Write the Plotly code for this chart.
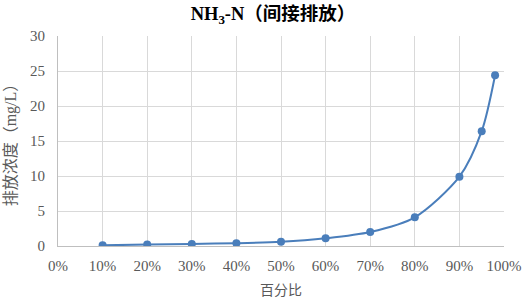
import plotly.graph_objects as go

x_pct = [10, 20, 30, 40, 50, 60, 70, 80, 90, 95, 98]
y_conc = [0.1, 0.2, 0.3, 0.4, 0.6, 1.1, 2.0, 4.1, 9.9, 16.4, 24.4]
x_ticks = [0, 10, 20, 30, 40, 50, 60, 70, 80, 90, 100]
x_ticklabels = [f"{v}%" for v in x_ticks]
y_ticks = [0, 5, 10, 15, 20, 25, 30]

font_fam = '"Liberation Serif", "Noto Sans CJK SC", serif'
txt_col = "#595959"

fig = go.Figure()
fig.add_trace(go.Scatter(
    x=x_pct, y=y_conc, mode="lines+markers",
    line=dict(color="#4a7ebb", width=2, shape="spline", smoothing=0.8),
    marker=dict(color="#4a7ebb", size=8),
    showlegend=False,
))

fig.update_layout(
    width=524, height=300,
    margin=dict(l=58, r=20, t=36, b=54),
    paper_bgcolor="white", plot_bgcolor="white",
    title=dict(text="<b>NH<sub>3</sub>-N（间接排放）</b>", x=0.521, xanchor="center",
               y=0.975, yanchor="top",
               font=dict(family=font_fam, size=18.5, color="#000000")),
    font=dict(family=font_fam, color=txt_col, size=14),
    xaxis=dict(range=[0, 100], tickvals=x_ticks, ticktext=x_ticklabels,
               automargin=False,
               showgrid=True, gridcolor="#d9d9d9", gridwidth=1,
               showline=True, linecolor="#bfbfbf", mirror=False,
               zeroline=False, ticks="", ticklabelstandoff=6,
               tickfont=dict(family=font_fam, size=15, color=txt_col),
               title=dict(text="百分比", font=dict(family=font_fam, size=14, color=txt_col), standoff=12)),
    yaxis=dict(range=[0, 30], tickvals=y_ticks,
               automargin=False,
               showgrid=True, gridcolor="#d9d9d9", gridwidth=1,
               showline=True, linecolor="#bfbfbf",
               zeroline=False, ticks="", ticklabelstandoff=9,
               tickfont=dict(family=font_fam, size=15, color=txt_col),
               title=dict(text="排放浓度（mg/L）", font=dict(family=font_fam, size=16, color=txt_col), standoff=9)),
)

fig.write_html(
    "out.html",
    config={"displayModeBar": False},
    post_script="document.body.style.margin='0';document.body.style.overflow='hidden';",
)
